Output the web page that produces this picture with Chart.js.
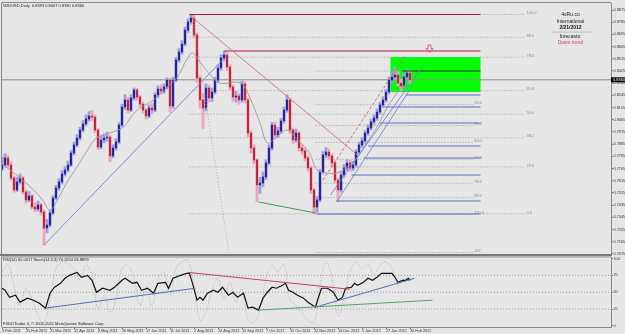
<!DOCTYPE html>
<html><head><meta charset="utf-8">
<script src="https://cdn.jsdelivr.net/npm/chart.js@4.4.0/dist/chart.umd.min.js"></script>
<style>
html,body{margin:0;padding:0;background:#e6e6e6;}
#wrap{position:relative;width:625px;height:334px;overflow:hidden;background:#e6e6e6;}
#c1{position:absolute;left:0;top:0;width:625px;height:256px;}
#c2{position:absolute;left:0;top:256px;width:625px;height:78px;}
</style></head><body>
<div id="wrap"><canvas id="c1" width="625" height="256"></canvas><canvas id="c2" width="625" height="78"></canvas></div>
<script>
// ---------------- DATA ----------------
const headerSymbol = 'NZDUSD,Daily';
const headerOHLC = [0.8393, 0.8407, 0.8330, 0.8360];
const rsiHeader = 'RSI(14) 65.0017';
const stochHeader = 'Stoch(14,3,3) 70.2054 66.8899';
const copyright = 'FXDDTrader 4, \u00a9 2001-2011 MetaQuotes Software Corp.';

const xTickLabels = ['3 Feb 2011','25 Feb 2011','21 Mar 2011','12 Apr 2011','4 May 2011','26 May 2011','17 Jun 2011','11 Jul 2011','2 Aug 2011','24 Aug 2011','15 Sep 2011','7 Oct 2011','31 Oct 2011','22 Nov 2011','14 Dec 2011','5 Jan 2012','27 Jan 2012','20 Feb 2012'];
const barsPerXLabel = 16;
const priceTicks = [0.8875,0.8785,0.8695,0.8605,0.8515,0.8425,0.8335,0.8245,0.8155,0.8065,0.7975,0.7885,0.7795,0.7705,0.7615,0.7525,0.7435,0.7345,0.7255,0.7165,0.7075];
const oscTicks = [0, 25, 50, 75, 100];
const oscLevels = [25, 50, 75];

const daysPerCandle = 2;
const firstOpen = 0.7700;
const closes = [0.7731,0.7783,0.7731,0.7635,0.7547,0.7606,0.7635,0.7532,0.7473,0.7502,
0.7421,0.7406,0.7436,0.7384,0.7266,0.7288,0.7377,0.7488,0.7561,0.7606,
0.7665,0.7694,0.7731,0.7820,0.7879,0.7930,0.7989,0.8034,0.8071,0.8093,
0.8085,0.7989,0.7864,0.7916,0.7930,0.7938,0.7798,0.7857,0.7901,0.8026,
0.8159,0.8211,0.8137,0.8226,0.8285,0.8233,0.8181,0.8137,0.8093,0.8152,
0.8137,0.8248,0.8292,0.8277,0.8307,0.8358,0.8167,0.8358,0.8506,0.8565,
0.8624,0.8727,0.8787,0.8816,0.8691,0.8373,0.8211,0.8152,0.8299,0.8226,
0.8270,0.8358,0.8447,0.8521,0.8543,0.8454,0.8307,0.8233,0.8240,0.8211,
0.8329,0.8211,0.7967,0.7857,0.7768,0.7584,0.7598,0.7643,0.7746,0.7857,
0.8026,0.7953,0.7982,0.8056,0.8137,0.8211,0.7989,0.7916,0.7967,0.7857,
0.7835,0.7783,0.7709,0.7547,0.7421,0.7473,0.7680,0.7805,0.7827,0.7798,
0.7746,0.7620,0.7547,0.7657,0.7709,0.7746,0.7709,0.7731,0.7827,0.7879,
0.7909,0.7967,0.8004,0.8049,0.8078,0.8122,0.8174,0.8211,0.8270,0.8358,
0.8381,0.8395,0.8336,0.8314,0.8381,0.8410,0.8360];
const highs = [0.7790,0.7815,0.7800,0.7750,0.7650,0.7640,0.7665,0.7648,0.7545,0.7535,
0.7515,0.7450,0.7465,0.7450,0.7400,0.7330,0.7395,0.7505,0.7580,0.7630,
0.7690,0.7720,0.7760,0.7840,0.7900,0.7955,0.8010,0.8060,0.8100,0.8125,
0.8135,0.8100,0.8000,0.7945,0.7960,0.7975,0.7950,0.7880,0.7925,0.8045,
0.8180,0.8250,0.8230,0.8250,0.8300,0.8295,0.8245,0.8195,0.8150,0.8175,
0.8185,0.8265,0.8315,0.8320,0.8330,0.8375,0.8370,0.8380,0.8525,0.8590,
0.8650,0.8750,0.8810,0.8842,0.8835,0.8705,0.8390,0.8260,0.8330,0.8320,
0.8300,0.8380,0.8470,0.8545,0.8573,0.8560,0.8470,0.8320,0.8275,0.8260,
0.8350,0.8345,0.8225,0.7985,0.7880,0.7780,0.7640,0.7680,0.7770,0.7880,
0.8045,0.8050,0.8010,0.8075,0.8160,0.8250,0.8225,0.8005,0.7995,0.7980,
0.7880,0.7855,0.7800,0.7720,0.7560,0.7500,0.7700,0.7830,0.7860,0.7850,
0.7815,0.7760,0.7635,0.7680,0.7735,0.7770,0.7765,0.7760,0.7845,0.7900,
0.7935,0.7985,0.8030,0.8070,0.8100,0.8145,0.8195,0.8235,0.8290,0.8380,
0.8420,0.8450,0.8420,0.8365,0.8410,0.8440,0.8430];
const lows = [0.7690,0.7715,0.7712,0.7620,0.7530,0.7535,0.7590,0.7515,0.7450,0.7460,
0.7405,0.7385,0.7390,0.7360,0.7140,0.7230,0.7275,0.7365,0.7475,0.7545,
0.7590,0.7650,0.7680,0.7720,0.7805,0.7865,0.7915,0.7975,0.8020,0.8055,
0.8060,0.7970,0.7845,0.7850,0.7895,0.7905,0.7755,0.7785,0.7840,0.7890,
0.8015,0.8140,0.8115,0.8125,0.8210,0.8210,0.8160,0.8115,0.8070,0.8080,
0.8110,0.8125,0.8230,0.8255,0.8260,0.8290,0.8120,0.8150,0.8345,0.8490,
0.8550,0.8610,0.8710,0.8770,0.8670,0.8340,0.8150,0.8000,0.8130,0.8195,
0.8200,0.8255,0.8340,0.8430,0.8500,0.8430,0.8285,0.8200,0.8195,0.8180,
0.8195,0.8190,0.7940,0.7820,0.7740,0.7460,0.7520,0.7570,0.7625,0.7730,
0.7840,0.7930,0.7935,0.7965,0.8040,0.8120,0.7965,0.7890,0.7900,0.7835,
0.7810,0.7760,0.7685,0.7520,0.7370,0.7380,0.7460,0.7665,0.7785,0.7775,
0.7720,0.7600,0.7460,0.7530,0.7640,0.7690,0.7685,0.7690,0.7715,0.7810,
0.7860,0.7890,0.7950,0.7990,0.8030,0.8060,0.8105,0.8155,0.8195,0.8255,
0.8340,0.8360,0.8315,0.8280,0.8300,0.8365,0.8330];
const lastPrice = 0.8360;

const maDays = [1,12,21,27,32,37,43,50,57,63,72,81,87,92,101,110,117,123,127,132,139,145,159,165,172,177,183,190,197,205,210,217,223,230,237,243,250,257,265,272];
const maValues = [0.7731,0.7635,0.7547,0.7473,0.7399,0.7473,0.7598,0.7716,0.7842,0.7930,0.7967,0.8012,0.8100,0.8152,0.8211,0.8307,0.8381,0.8506,0.8558,0.8491,0.8395,0.8336,0.8336,0.8233,0.8041,0.7893,0.7938,0.7989,0.7916,0.7820,0.7694,0.7672,0.7672,0.7716,0.7790,0.7893,0.8012,0.8159,0.8285,0.8358];

const rsiDays = [0,2,5,9,12,17,21,25,29,32,35,39,42,45,50,53,57,60,63,67,72,75,80,82,87,90,93,97,101,104,109,111,114,119,123,125,127,130,132,134,137,141,144,147,151,154,157,161,164,167,171,174,177,180,183,187,189,191,194,197,201,204,209,211,213,217,221,224,227,229,233,235,237,241,244,247,250,253,257,260,262,264,267,269,271,272];
const rsiValues = [55.9,52.9,42.6,45.6,35.3,41.2,38.2,33.8,26.5,48.5,57.4,63.2,70.6,75.0,79.4,72.1,75.0,67.6,50.0,55.9,52.9,57.4,67.6,70.6,63.2,64.7,52.9,55.9,48.5,63.2,64.7,55.9,70.6,75.0,77.9,77.9,63.2,38.2,42.6,38.2,48.5,52.9,50.0,57.4,45.6,50.0,42.6,48.5,26.5,27.9,23.5,41.2,50.0,57.4,55.9,60.3,63.2,52.9,50.0,45.6,41.2,35.3,27.9,42.6,55.9,55.9,50.0,38.2,42.6,55.9,57.4,63.2,60.3,64.7,70.6,67.6,72.1,77.9,77.9,77.9,72.1,64.7,67.6,67.6,70.6,67.6];

const stochDays = [0,4,8,12,16,20,24,28,32,36,40,44,48,52,56,60,64,68,72,76,80,84,88,92,96,100,104,108,112,116,120,124,128,132,136,140,144,148,152,156,160,164,168,172,176,180,184,188,192,196,200,204,208,212,216,220,224,228,232,236,240,244,248,252,256,260,264,268,272];
const stochValues = [80,90,60,30,55,40,15,5,40,85,95,92,85,70,90,75,25,45,20,40,85,90,70,30,55,30,70,80,45,85,95,97,60,8,20,55,70,40,65,35,55,10,5,25,70,90,80,92,40,30,20,8,5,60,95,70,15,40,80,95,85,92,75,90,95,85,60,70,68];

// trend lines on price panel: [day, price]
const blueTrend = [[28,0.7140],[147,0.8506]];
const redDiagonal = [[125,0.8838],[237,0.7805]];
const redDashed = [[214,0.7620],[269,0.8543]];
const greenSupport = [[171,0.7458],[209,0.7377]];
const blueRiseA = [[219,0.7510],[281,0.8469]];
const blueRiseB = [[223,0.7458],[274,0.8322]];
const grayDotted = [[127,0.8838],[151,0.7104]];
// horizontal levels
const redLevels = [0.8842, 0.8573];
const redLevelStarts = [125, 148];
const levelEndDay = 319;
const blueLevels = [0.7369,0.7465,0.7657,0.7783,0.7871,0.8041,0.8159,0.8248];
const blueLevelStarts = [210,223,233,241,244,252,255,269];
const boxLine = [[267,0.8425],[319,0.8425]];
const longFibLevels = [0.8842,0.8674,0.8527,0.8280,0.8106,0.7932,0.7717,0.7370];
const longFibLabels = ['100.0','88.6','78.6','61.8','50.0','38.2','23.6','0.0'];
const longFibSpan = [125, 349];
const shortFibLevels = [0.8425,0.8176,0.8022,0.7898,0.7773,0.7596,0.7490,0.7370,0.7085];
const shortFibLabels = ['0.0','23.6','38.2','50.0','61.8','78.6','88.6','100.0','127'];
const shortFibSpan = [209, 314];
const boxDays = [259, 319];
const boxPrices = [0.8270, 0.8528];
const arrowAt = [285, 0.8617];
const noteAt = [379, 0.8838];
const noteLines = ['4xRu.co','International','2/21/2012','forecasts:','Down trend'];

// oscillator trend lines: [day, value]
const oscBlue1 = [[29,26.5],[129,55.9]];
const oscRed = [[124,79.4],[232,54.4]];
const oscGreen = [[171,23.5],[287,38.2]];
const oscBlue2 = [[209,27.9],[275,70.6]];

// ---------------- BUILD ----------------
const BG = '#e6e6e6';
const FONT = '"Liberation Sans", Arial, sans-serif';
const X_MIN = 0, X_MAX = 406;
const candleDays = closes.map((_, k) => k * daysPerCandle);
const opens = closes.map((c, k) => k === 0 ? firstOpen : closes[k - 1]);
const isUp = closes.map((c, k) => c >= opens[k]);
const pts = arr => arr.map(p => ({x: p[0], y: p[1]}));
const hl = (lv, a, b) => [{x: a, y: lv}, {x: b, y: lv}];
const lineDs = (data, color, width, dash, order, tension) => ({
  type: 'line', data, borderColor: color, borderWidth: width, borderDash: dash || [],
  pointRadius: 0, fill: false, tension: tension || 0, order: order, xAxisID: 'x', yAxisID: 'y'
});

const mainDatasets = [];
mainDatasets.push(lineDs(hl(lastPrice, X_MIN, X_MAX), '#8c8c8c', 1, [], 20));
longFibLevels.forEach(lv => mainDatasets.push(lineDs(hl(lv, longFibSpan[0], longFibSpan[1]), '#9c9c9c', 1, [1, 2], 15)));
shortFibLevels.forEach(lv => mainDatasets.push(lineDs(hl(lv, shortFibSpan[0], shortFibSpan[1]), '#9c9c9c', 1, [1, 2], 15)));
mainDatasets.push({type: 'bar', data: candleDays.map((d, k) => ({x: d, y: [lows[k], highs[k]]})),
  backgroundColor: isUp.map(u => u ? '#a0a0e0' : '#eca8b6'), barThickness: 2.2, grouped: false, order: 7, borderWidth: 0});
mainDatasets.push({type: 'bar', data: candleDays.map((d, k) => ({x: d, y: [opens[k], closes[k]]})),
  backgroundColor: isUp.map(u => u ? '#24249c' : '#c4243c'), barThickness: 1.5, grouped: false, order: 6, borderWidth: 0});
mainDatasets.push(lineDs(maDays.map((d, i) => ({x: d, y: maValues[i]})), '#9a9a9a', 0.9, [], 4, 0.4));
blueLevels.forEach((lv, i) => mainDatasets.push(lineDs(hl(lv, blueLevelStarts[i], levelEndDay), '#5270c8', 1.1, [], 3)));
redLevels.forEach((lv, i) => mainDatasets.push(lineDs(hl(lv, redLevelStarts[i], levelEndDay), '#b01e3e', 1.1, [], 2)));
mainDatasets.push(lineDs(pts(boxLine), '#1e3a1e', 1, [], 2));
mainDatasets.push(lineDs(pts(blueTrend), '#7484d4', 0.9, [], 1));
mainDatasets.push(lineDs(pts(redDiagonal), '#d47082', 0.9, [], 1));
mainDatasets.push(lineDs(pts(redDashed), '#d06274', 0.9, [3, 2], 1));
mainDatasets.push(lineDs(pts(greenSupport), '#3c9c5c', 1, [], 1));
mainDatasets.push(lineDs(pts(blueRiseA), '#7484d4', 0.9, [], 1));
mainDatasets.push(lineDs(pts(blueRiseB), '#7484d4', 0.9, [], 1));
mainDatasets.push(lineDs(pts(grayDotted), '#a4a4a4', 0.9, [1, 2], 1));

function txt(ctx, s, x, y, font, color, align) {
  ctx.font = font; ctx.fillStyle = color; ctx.textAlign = align || 'left'; ctx.textBaseline = 'middle';
  ctx.fillText(s, x, y);
}

const mainDecor = {
  id: 'mainDecor',
  beforeDraw(chart) { const c = chart.ctx; c.save(); c.fillStyle = BG; c.fillRect(0, 0, chart.width, chart.height); c.restore(); },
  beforeDatasetsDraw(chart) {
    const {ctx, scales: {x, y}} = chart;
    const x1 = x.getPixelForValue(boxDays[0]), x2 = x.getPixelForValue(boxDays[1]);
    const y1 = y.getPixelForValue(boxPrices[1]), y2 = y.getPixelForValue(boxPrices[0]);
    ctx.save(); ctx.fillStyle = '#00ff00'; ctx.fillRect(x1, y1, x2 - x1, y2 - y1); ctx.restore();
  },
  afterDatasetsDraw(chart) {
    const {ctx, scales: {x, y}, chartArea: a} = chart;
    ctx.save();
    const f4 = '4px ' + FONT;
    longFibLevels.forEach((lv, i) => txt(ctx, longFibLabels[i], x.getPixelForValue(longFibSpan[1]) + 1, y.getPixelForValue(lv) - 1.5, f4, '#8a8a8a'));
    shortFibLevels.forEach((lv, i) => txt(ctx, shortFibLabels[i], x.getPixelForValue(shortFibSpan[1]) + 1, y.getPixelForValue(lv) - 1.5, f4, '#8a8a8a'));
    const ax = x.getPixelForValue(arrowAt[0]), ay = y.getPixelForValue(arrowAt[1]);
    ctx.beginPath();
    ctx.moveTo(ax - 1.5, ay); ctx.lineTo(ax + 1.5, ay); ctx.lineTo(ax + 1.5, ay + 3.5); ctx.lineTo(ax + 3.5, ay + 3.5);
    ctx.lineTo(ax, ay + 7.5); ctx.lineTo(ax - 3.5, ay + 3.5); ctx.lineTo(ax - 1.5, ay + 3.5); ctx.closePath();
    ctx.strokeStyle = '#d84a5a'; ctx.lineWidth = 0.8; ctx.stroke();
    const nx = x.getPixelForValue(noteAt[0]), ny = y.getPixelForValue(noteAt[1]);
    const f5 = '5px ' + FONT;
    txt(ctx, noteLines[0], nx, ny, f5, '#202020', 'center');
    txt(ctx, noteLines[1], nx, ny + 6.5, f5, '#202020', 'center');
    txt(ctx, noteLines[2], nx, ny + 12.5, 'bold 5px ' + FONT, '#101010', 'center');
    ctx.beginPath(); ctx.setLineDash([1, 1]); ctx.strokeStyle = '#4aa84a'; ctx.lineWidth = 0.8;
    ctx.moveTo(nx - 19, ny + 17); ctx.lineTo(nx + 21, ny + 17); ctx.stroke(); ctx.setLineDash([]);
    txt(ctx, noteLines[3], nx, ny + 21.5, f5, '#202020', 'center');
    txt(ctx, noteLines[4], nx, ny + 28, f5, '#e03c68', 'center');
    txt(ctx, headerSymbol + '  ' + headerOHLC.map(v => v.toFixed(4)).join(' '), a.left + 1, a.top + 2.5, f4, '#202020');
    const py = y.getPixelForValue(lastPrice);
    ctx.fillStyle = '#000'; ctx.fillRect(a.right, py - 2.5, chart.width - a.right, 5);
    txt(ctx, lastPrice.toFixed(4), a.right + 2, py, f4, '#fff');
    ctx.restore();
  },
  afterDraw(chart) {
    const {ctx, chartArea: a} = chart;
    ctx.save();
    ctx.strokeStyle = '#8a8a8a'; ctx.lineWidth = 1;
    ctx.beginPath(); ctx.moveTo(a.left - 0.5, a.bottom); ctx.lineTo(a.left - 0.5, a.top - 0.5); ctx.lineTo(a.right, a.top - 0.5); ctx.stroke();
    ctx.fillStyle = '#7a7a7a'; ctx.fillRect(0, a.bottom, a.right + 1, 2);
    ctx.restore();
  }
};

const tickFont = {size: 3.8, family: FONT, lineHeight: 0.5};

new Chart(document.getElementById('c1'), {
  type: 'bar',
  data: {datasets: mainDatasets},
  options: {
    responsive: false, animation: false, events: [],
    layout: {padding: {left: 2, top: 3, right: 0, bottom: 2}},
    plugins: {legend: {display: false}, tooltip: {enabled: false}},
    scales: {
      x: {type: 'linear', min: X_MIN, max: X_MAX, offset: false, display: false, grid: {display: false}},
      y: {type: 'linear', position: 'right', min: 0.7074, max: 0.8927, beginAtZero: false,
        afterBuildTicks: s => { s.ticks = priceTicks.map(v => ({value: v})); },
        afterFit: s => { s.width = 14; },
        ticks: {autoSkip: false, font: tickFont, color: '#303030', padding: 0.5, callback: v => Number(v).toFixed(4)},
        grid: {drawOnChartArea: false, drawTicks: true, tickLength: 2, color: '#707070'},
        border: {display: true, color: '#8a8a8a'}}
    }
  },
  plugins: [mainDecor]
});

// ---------------- oscillator panel ----------------
const oscDatasets = [];
oscLevels.forEach(lv => oscDatasets.push(lineDs(hl(lv, X_MIN, X_MAX), '#9a9a9a', 1, [1, 2], 10)));
oscDatasets.push(lineDs(stochDays.map((d, i) => ({x: d, y: stochValues[i]})), '#ababab', 0.9, [1, 1.5], 8, 0.4));
oscDatasets.push(lineDs(rsiDays.map((d, i) => ({x: d, y: rsiValues[i]})), '#111111', 1.2, [], 5));
oscDatasets.push(lineDs(pts(oscBlue1), '#4f6cc6', 1, [], 2));
oscDatasets.push(lineDs(pts(oscRed), '#c8405c', 1, [], 2));
oscDatasets.push(lineDs(pts(oscGreen), '#4aa86a', 1, [], 2));
oscDatasets.push(lineDs(pts(oscBlue2), '#4f6cc6', 1, [], 2));

const oscDecor = {
  id: 'oscDecor',
  beforeDraw(chart) { const c = chart.ctx; c.save(); c.fillStyle = BG; c.fillRect(0, 0, chart.width, chart.height); c.restore(); },
  afterDatasetsDraw(chart) {
    const {ctx, chartArea: a} = chart;
    ctx.save();
    const f4 = '4px ' + FONT;
    txt(ctx, rsiHeader + ' ' + stochHeader, a.left + 1, a.top + 2.5, f4, '#202020');
    txt(ctx, copyright, a.left + 1, a.bottom - 3, f4, '#202020');
    ctx.restore();
  },
  afterDraw(chart) {
    const {ctx, chartArea: a} = chart;
    ctx.save(); ctx.strokeStyle = '#8a8a8a'; ctx.lineWidth = 1;
    ctx.beginPath(); ctx.moveTo(a.left - 0.5, a.bottom); ctx.lineTo(a.left - 0.5, a.top - 0.5); ctx.lineTo(a.right, a.top - 0.5); ctx.stroke();
    ctx.restore();
  }
};

new Chart(document.getElementById('c2'), {
  type: 'line',
  data: {datasets: oscDatasets},
  options: {
    responsive: false, animation: false, events: [],
    layout: {padding: {left: 2, top: 1, right: 0, bottom: 0}},
    plugins: {legend: {display: false}, tooltip: {enabled: false}},
    scales: {
      x: {type: 'linear', min: X_MIN, max: X_MAX, offset: false, position: 'bottom',
        afterBuildTicks: s => { s.ticks = xTickLabels.map((_, n) => ({value: n * barsPerXLabel})); },
        afterFit: s => { s.height = 7; },
        ticks: {autoSkip: false, maxRotation: 0, minRotation: 0, align: 'start', padding: 0.5, font: tickFont, color: '#303030',
          callback: (v, i) => xTickLabels[i]},
        grid: {drawOnChartArea: false, drawTicks: true, tickLength: 2, color: '#707070'},
        border: {display: true, color: '#8a8a8a'}},
      y: {type: 'linear', position: 'right', min: -1.5, max: 101.5,
        afterBuildTicks: s => { s.ticks = oscTicks.map(v => ({value: v})); },
        afterFit: s => { s.width = 14; },
        ticks: {autoSkip: false, font: tickFont, color: '#303030', padding: 0.5},
        grid: {drawOnChartArea: false, drawTicks: true, tickLength: 2, color: '#707070'},
        border: {display: true, color: '#8a8a8a'}}
    }
  },
  plugins: [oscDecor]
});
</script>
</body></html>
